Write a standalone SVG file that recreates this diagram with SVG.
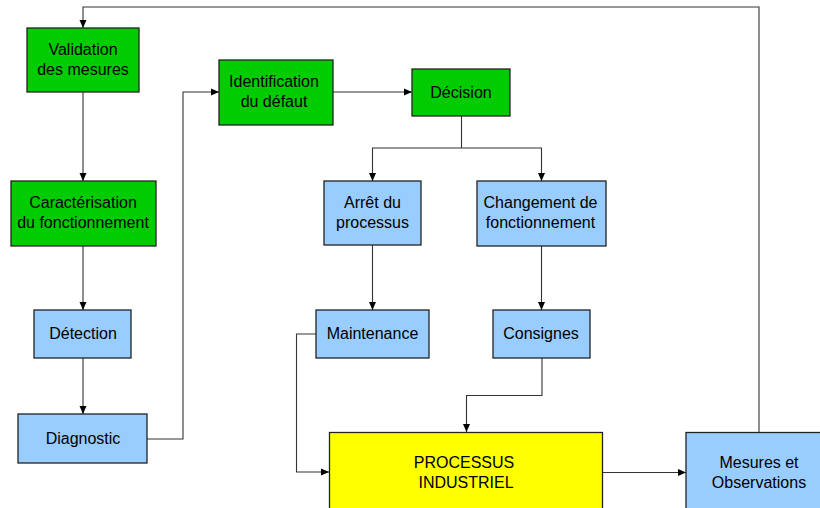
<svg xmlns="http://www.w3.org/2000/svg" width="820" height="508" viewBox="0 0 820 508">
<defs>
<marker id="arr" markerWidth="8" markerHeight="8" refX="8" refY="4" orient="auto" markerUnits="userSpaceOnUse">
<path d="M0,0.5 L8,4 L0,7.5 Z" fill="#000"/>
</marker>
<style>
.g{fill:#00CC00;stroke:#222;stroke-width:1.3}
.b{fill:#99CCFF;stroke:#222;stroke-width:1.3}
.y{fill:#FFFF00;stroke:#222;stroke-width:1.3}
text{font-family:"Liberation Sans",Arial,sans-serif;font-size:16px;fill:#000;text-anchor:middle}
.c{fill:none;stroke:#333;stroke-width:1.1}
.a{marker-end:url(#arr)}
</style>
</defs>
<rect width="820" height="508" fill="#fff"/>
<g id="connectors">
<path class="c a" d="M759,432 V7 H83 V28"/>
<path class="c a" d="M83,92 V181"/>
<path class="c a" d="M83,246 V310"/>
<path class="c a" d="M83,358 V414"/>
<path class="c a" d="M147,439 H183 V92 H219"/>
<path class="c a" d="M333,92 H412"/>
<path class="c" d="M461.5,116 V148"/>
<path class="c a" d="M461.5,148 H372.5 V181"/>
<path class="c a" d="M461.5,148 H541.5 V181"/>
<path class="c a" d="M372.5,245 V310"/>
<path class="c a" d="M541.5,246 V310"/>
<path class="c a" d="M316,334 H296.5 V472 H329"/>
<path class="c a" d="M542,358 V395.5 H466.5 V432"/>
<path class="c a" d="M602,472.5 H686"/>
</g>
<g id="validation"><rect class="g" x="27" y="28" width="112" height="64"/><text x="83" y="55">Validation</text><text x="83" y="75">des mesures</text></g>
<g id="caracterisation"><rect class="g" x="11" y="181" width="145" height="65"/><text x="83" y="208">Caractérisation</text><text x="83" y="228">du fonctionnement</text></g>
<g id="detection"><rect class="b" x="34" y="310" width="97" height="48"/><text x="83" y="339">Détection</text></g>
<g id="diagnostic"><rect class="b" x="18" y="414" width="129" height="49"/><text x="83" y="444">Diagnostic</text></g>
<g id="identification"><rect class="g" x="219" y="60" width="114" height="65"/><text x="274" y="87">Identification</text><text x="274" y="107">du défaut</text></g>
<g id="decision"><rect class="g" x="412" y="69" width="98" height="47"/><text x="461" y="98">Décision</text></g>
<g id="arret"><rect class="b" x="324" y="181" width="97" height="64"/><text x="372.5" y="208">Arrêt du</text><text x="372.5" y="228">processus</text></g>
<g id="changement"><rect class="b" x="477" y="181" width="129" height="65"/><text x="540.5" y="208">Changement de</text><text x="540.5" y="228">fonctionnement</text></g>
<g id="maintenance"><rect class="b" x="316" y="310" width="113" height="48"/><text x="372.5" y="339">Maintenance</text></g>
<g id="consignes"><rect class="b" x="493" y="310" width="97" height="48"/><text x="541" y="339">Consignes</text></g>
<g id="processus"><rect class="y" x="329.5" y="432.5" width="273" height="90"/><text x="464" y="468">PROCESSUS</text><text x="466" y="488">INDUSTRIEL</text></g>
<g id="mesures"><rect class="b" x="686" y="432.5" width="144" height="90"/><text x="759" y="468">Mesures et</text><text x="759" y="488">Observations</text></g>
</svg>
